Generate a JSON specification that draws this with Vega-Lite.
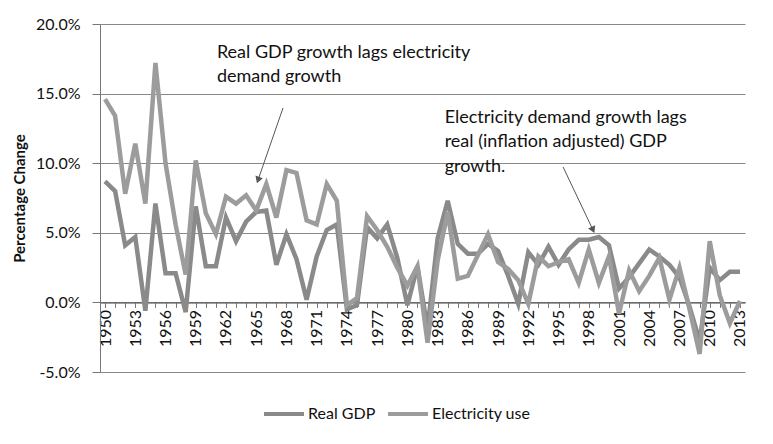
{
  "$schema": "https://vega.github.io/schema/vega-lite/v6.json",
  "autosize": "none",
  "width": 645,
  "height": 348,
  "padding": {"left": 100, "top": 24, "right": 28, "bottom": 72},
  "background": "white",
  "config": {
    "font": "Lato",
    "view": {"stroke": null},
    "axis": {"labelFont": "Lato", "titleFont": "Lato", "labelColor": "#111", "titleColor": "#111"}
  },
  "resolve": {"axis": {"x": "independent"}},
  "datasets": {
    "series": [
      {"year": 1950, "Real GDP": 8.7, "Electricity use": 14.6},
      {"year": 1951, "Real GDP": 8.0, "Electricity use": 13.4},
      {"year": 1952, "Real GDP": 4.1, "Electricity use": 7.8},
      {"year": 1953, "Real GDP": 4.7, "Electricity use": 11.4},
      {"year": 1954, "Real GDP": -0.6, "Electricity use": 7.1},
      {"year": 1955, "Real GDP": 7.1, "Electricity use": 17.2},
      {"year": 1956, "Real GDP": 2.1, "Electricity use": 10.0},
      {"year": 1957, "Real GDP": 2.1, "Electricity use": 5.6},
      {"year": 1958, "Real GDP": -0.7, "Electricity use": 2.0},
      {"year": 1959, "Real GDP": 6.9, "Electricity use": 10.2},
      {"year": 1960, "Real GDP": 2.6, "Electricity use": 6.4},
      {"year": 1961, "Real GDP": 2.6, "Electricity use": 4.9},
      {"year": 1962, "Real GDP": 6.1, "Electricity use": 7.6},
      {"year": 1963, "Real GDP": 4.4, "Electricity use": 7.1},
      {"year": 1964, "Real GDP": 5.8, "Electricity use": 7.7},
      {"year": 1965, "Real GDP": 6.5, "Electricity use": 6.6},
      {"year": 1966, "Real GDP": 6.6, "Electricity use": 8.5},
      {"year": 1967, "Real GDP": 2.7, "Electricity use": 6.1},
      {"year": 1968, "Real GDP": 4.9, "Electricity use": 9.5},
      {"year": 1969, "Real GDP": 3.1, "Electricity use": 9.3},
      {"year": 1970, "Real GDP": 0.2, "Electricity use": 5.9},
      {"year": 1971, "Real GDP": 3.3, "Electricity use": 5.6},
      {"year": 1972, "Real GDP": 5.2, "Electricity use": 8.5},
      {"year": 1973, "Real GDP": 5.6, "Electricity use": 7.3},
      {"year": 1974, "Real GDP": -0.5, "Electricity use": -0.2},
      {"year": 1975, "Real GDP": -0.2, "Electricity use": 0.3},
      {"year": 1976, "Real GDP": 5.4, "Electricity use": 6.2},
      {"year": 1977, "Real GDP": 4.6, "Electricity use": 5.2},
      {"year": 1978, "Real GDP": 5.6, "Electricity use": 4.0},
      {"year": 1979, "Real GDP": 3.2, "Electricity use": 2.5},
      {"year": 1980, "Real GDP": -0.2, "Electricity use": 1.2},
      {"year": 1981, "Real GDP": 2.6, "Electricity use": 2.6},
      {"year": 1982, "Real GDP": -1.9, "Electricity use": -2.9},
      {"year": 1983, "Real GDP": 4.6, "Electricity use": 3.0},
      {"year": 1984, "Real GDP": 7.3, "Electricity use": 6.5},
      {"year": 1985, "Real GDP": 4.2, "Electricity use": 1.7},
      {"year": 1986, "Real GDP": 3.5, "Electricity use": 1.9},
      {"year": 1987, "Real GDP": 3.5, "Electricity use": 3.4},
      {"year": 1988, "Real GDP": 4.2, "Electricity use": 4.9},
      {"year": 1989, "Real GDP": 3.7, "Electricity use": 2.9},
      {"year": 1990, "Real GDP": 1.9, "Electricity use": 2.4},
      {"year": 1991, "Real GDP": -0.1, "Electricity use": 1.6},
      {"year": 1992, "Real GDP": 3.6, "Electricity use": -0.1},
      {"year": 1993, "Real GDP": 2.7, "Electricity use": 3.3},
      {"year": 1994, "Real GDP": 4.0, "Electricity use": 2.6},
      {"year": 1995, "Real GDP": 2.7, "Electricity use": 2.9},
      {"year": 1996, "Real GDP": 3.8, "Electricity use": 3.1},
      {"year": 1997, "Real GDP": 4.5, "Electricity use": 1.4},
      {"year": 1998, "Real GDP": 4.5, "Electricity use": 3.8},
      {"year": 1999, "Real GDP": 4.7, "Electricity use": 1.4},
      {"year": 2000, "Real GDP": 4.1, "Electricity use": 3.3},
      {"year": 2001, "Real GDP": 1.0, "Electricity use": -0.8},
      {"year": 2002, "Real GDP": 1.8, "Electricity use": 2.3},
      {"year": 2003, "Real GDP": 2.8, "Electricity use": 0.8},
      {"year": 2004, "Real GDP": 3.8, "Electricity use": 1.9},
      {"year": 2005, "Real GDP": 3.3, "Electricity use": 3.2},
      {"year": 2006, "Real GDP": 2.7, "Electricity use": 0.2},
      {"year": 2007, "Real GDP": 1.8, "Electricity use": 2.5},
      {"year": 2008, "Real GDP": -0.3, "Electricity use": -0.5},
      {"year": 2009, "Real GDP": -2.8, "Electricity use": -3.7},
      {"year": 2010, "Real GDP": 2.5, "Electricity use": 4.4},
      {"year": 2011, "Real GDP": 1.6, "Electricity use": 0.5},
      {"year": 2012, "Real GDP": 2.2, "Electricity use": -1.5},
      {"year": 2013, "Real GDP": 2.2, "Electricity use": 0.1}
    ],
    "notes": [
      {"year": 1961.1, "value": 17.9, "text": "Real GDP growth lags electricity"},
      {"year": 1961.1, "value": 16.2, "text": "demand growth"},
      {"year": 1983.7, "value": 13.25, "text": "Electricity demand growth lags"},
      {"year": 1983.7, "value": 11.5, "text": "real (inflation adjusted) GDP"},
      {"year": 1983.7, "value": 9.75, "text": "growth."}
    ],
    "arrow1": [{"x1": 1967.66, "y1": 13.97, "x2": 1965.18, "y2": 8.79}],
    "arrow2": [{"x1": 1995.45, "y1": 9.73, "x2": 1998.42, "y2": 5.2}]
  },
  "layer": [
    {
      "data": {"name": "series"},
      "transform": [{"fold": ["Real GDP", "Electricity use"], "as": ["series", "value"]}],
      "mark": {"type": "line", "strokeWidth": 4.5, "strokeJoin": "miter"},
      "encoding": {
        "x": {
          "field": "year", "type": "quantitative",
          "scale": {"domain": [1949.5, 2013.5], "nice": false, "zero": false},
          "axis": {
            "title": null,
            "orient": "bottom",
            "offset": -69.6,
            "values": [1950,1953,1956,1959,1962,1965,1968,1971,1974,1977,1980,1983,1986,1989,1992,1995,1998,2001,2004,2007,2010,2013],
            "format": "d",
            "labelAngle": -90,
            "labelFontSize": 16,
            "labelPadding": 2,
            "labelOverlap": false,
            "labelBound": false,
            "labelFlush": false,
            "tickSize": 5,
            "tickColor": "#777",
            "domainColor": "#666",
            "grid": false
          }
        },
        "y": {
          "field": "value", "type": "quantitative",
          "scale": {"domain": [-5, 20], "nice": false},
          "axis": {
            "title": "Percentage Change",
            "titleFontSize": 15,
            "titleFontWeight": "bold",
            "titlePadding": 8,
            "values": [-5, 0, 5, 10, 15, 20],
            "labelExpr": "replace(format(datum.value, '.1f'), '\u2212', '-') + '%'",
            "labelFontSize": 16,
            "labelPadding": 12,
            "tickSize": 8,
            "tickColor": "#777",
            "domainColor": "#777",
            "grid": true,
            "gridColor": "#888",
            "gridWidth": 1
          }
        },
        "color": {
          "field": "series", "type": "nominal",
          "scale": {"domain": ["Real GDP", "Electricity use"], "range": ["#8a8a8a", "#9c9c9c"]},
          "legend": {
            "title": null,
            "orient": "none",
            "legendX": 162,
            "legendY": 368,
            "direction": "horizontal",
            "symbolType": "stroke",
            "symbolSize": 1600,
            "symbolStrokeWidth": 4,
            "labelFont": "Lato",
            "labelFontSize": 16,
            "labelColor": "#111",
            "columnPadding": 4,
            "labelOffset": 2
          }
        }
      }
    },
    {
      "data": {"name": "notes"},
      "mark": {"type": "text", "align": "left", "baseline": "middle", "fontSize": 18, "color": "#111", "font": "Lato"},
      "encoding": {
        "x": {
          "field": "year", "type": "quantitative",
          "axis": {
            "title": null,
            "orient": "bottom",
            "offset": -69.6,
            "values": [1950,1951,1952,1953,1954,1955,1956,1957,1958,1959,1960,1961,1962,1963,1964,1965,1966,1967,1968,1969,1970,1971,1972,1973,1974,1975,1976,1977,1978,1979,1980,1981,1982,1983,1984,1985,1986,1987,1988,1989,1990,1991,1992,1993,1994,1995,1996,1997,1998,1999,2000,2001,2002,2003,2004,2005,2006,2007,2008,2009,2010,2011,2012,2013],
            "labels": false,
            "tickSize": 5,
            "tickColor": "#777",
            "domainColor": "#666",
            "grid": false
          }
        },
        "y": {"field": "value", "type": "quantitative"},
        "text": {"field": "text"}
      }
    },
    {
      "data": {"name": "arrow1"},
      "mark": {"type": "rule", "color": "#555", "strokeWidth": 1},
      "encoding": {
        "x": {"field": "x1", "type": "quantitative", "axis": null},
        "y": {"field": "y1", "type": "quantitative"},
        "x2": {"field": "x2"},
        "y2": {"field": "y2"}
      }
    },
    {
      "data": {"name": "arrow1"},
      "mark": {"type": "point", "shape": "triangle-down", "filled": true, "color": "#555", "size": 60, "angle": 19, "opacity": 1},
      "encoding": {
        "x": {"field": "x2", "type": "quantitative", "axis": null},
        "y": {"field": "y2", "type": "quantitative"}
      }
    },
    {
      "data": {"name": "arrow2"},
      "mark": {"type": "rule", "color": "#555", "strokeWidth": 1},
      "encoding": {
        "x": {"field": "x1", "type": "quantitative", "axis": null},
        "y": {"field": "y1", "type": "quantitative"},
        "x2": {"field": "x2"},
        "y2": {"field": "y2"}
      }
    },
    {
      "data": {"name": "arrow2"},
      "mark": {"type": "point", "shape": "triangle-down", "filled": true, "color": "#555", "size": 60, "angle": 335, "opacity": 1},
      "encoding": {
        "x": {"field": "x2", "type": "quantitative", "axis": null},
        "y": {"field": "y2", "type": "quantitative"}
      }
    }
  ]
}
